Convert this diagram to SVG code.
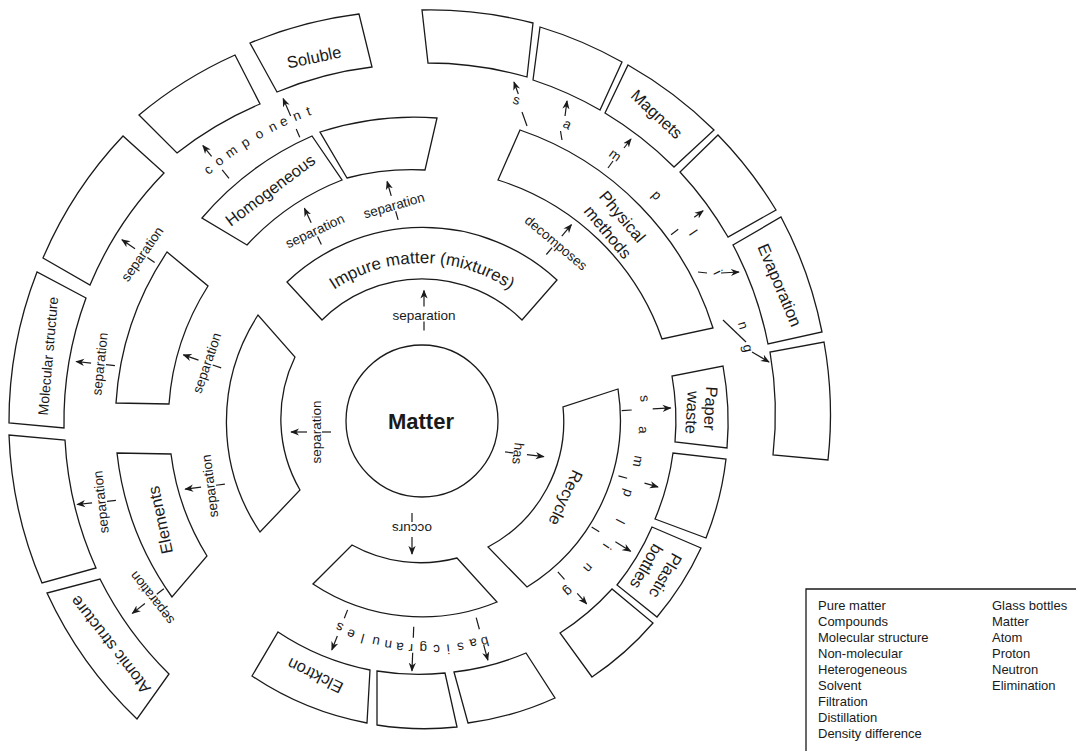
<svg xmlns="http://www.w3.org/2000/svg" width="1076" height="751" viewBox="0 0 1076 751">
<defs>
<style>
.b{fill:#fff;stroke:#1a1a1a;stroke-width:1.3}
.t{font-family:"Liberation Sans",Arial,sans-serif;font-size:16.5px;fill:#1a1a1a;text-anchor:middle;dominant-baseline:central}
.s{font-size:13.5px}
.c line{stroke:#1a1a1a;stroke-width:1.2}
.a{marker-end:url(#ah)}
.lg{font-family:"Liberation Sans",Arial,sans-serif;font-size:13px;fill:#1a1a1a}
</style>
<marker id="ah" viewBox="0 0 10 10" refX="9" refY="5" markerWidth="9" markerHeight="9" markerUnits="userSpaceOnUse" orient="auto"><path d="M0,1 L10,5 L0,9 L3,5 z" fill="#1a1a1a"/></marker>
</defs>
<rect width="1076" height="751" fill="#fff"/>

<g id="matter"><circle class="b" cx="422" cy="421" r="76"/><text class="t" x="421" y="421" style="font-size:22px;font-weight:bold">Matter</text></g>

<g id="impure"><path class="b" d="M287,282 A197,197 0 0 1 557,280 L522,320 A142,142 0 0 0 322,320 Z"/>
<path id="pim" d="M285.2,342 A158,158 0 0 1 558.8,342" fill="none"/>
<text style="font-family:'Liberation Sans',Arial,sans-serif;font-size:17px;fill:#1a1a1a"><textPath href="#pim" startOffset="50%" text-anchor="middle">Impure matter (mixtures)</textPath></text></g>
<g id="left1"><path class="b" d="M260,532 A197,197 0 0 1 258,315 L295,357 A142,142 0 0 0 300,490 Z"/></g>
<g id="recycle"><path class="b" d="M618,389 A197,197 0 0 1 527,587 L488,547 A142,142 0 0 0 563,407 Z"/><text class="t" transform="translate(566 498) rotate(115)">Recycle</text></g>
<g id="bottom1"><path class="b" d="M497,602 A197,197 0 0 1 313,584 L352,545 A142,142 0 0 0 457,558 Z"/></g>

<g id="homogeneous"><path class="b" d="M202,218 A306,306 0 0 1 312,136 L342,180 A254,254 0 0 0 247,245 Z"/><text class="t" transform="translate(270 190) rotate(-37)">Homogeneous</text></g>
<g id="blank-h"><path class="b" d="M320,132 A306,306 0 0 1 437,118 L425,170 A254,254 0 0 0 347,178 Z"/></g>
<g id="physical"><path class="b" d="M520,130 A306,306 0 0 1 713,328 L662,339 A254,254 0 0 0 498,180 Z"/><text class="t" transform="translate(622.6 216.4) rotate(50)">Physical</text><text class="t" transform="translate(608 232) rotate(50)">methods</text></g>
<g id="left2"><path class="b" d="M116,403 A306,306 0 0 1 167,252 L208,286 A254,254 0 0 0 169,404 Z"/></g>
<g id="elements"><path class="b" d="M172,597 A306,306 0 0 1 117,453 L171,454 A254,254 0 0 0 207,556 Z"/><text class="t" transform="translate(160 520) rotate(-102)">Elements</text></g>
<g id="elcktron"><path class="b" d="M367,723 A306,306 0 0 1 252,676 L278,632 A254,254 0 0 0 370,670 Z"/><text class="t" transform="translate(315 676) rotate(206)">Elcktron</text></g>
<g id="blank-bm"><path class="b" d="M457,727 A306,306 0 0 1 377,725 L377,671 A254,254 0 0 0 445,673 Z"/></g>
<g id="blank-br"><path class="b" d="M555,698 A306,306 0 0 1 468,723 L454,672 A254,254 0 0 0 526,653 Z"/></g>
<g id="paper"><path class="b" d="M723,366 A306,306 0 0 1 727,448 L675,442 A254,254 0 0 0 672,376 Z"/><text class="t" transform="translate(711 408.5) rotate(93)">Paper</text><text class="t" transform="translate(692.5 412.5) rotate(93)">waste</text></g>
<g id="blank-p"><path class="b" d="M726,459 A306,306 0 0 1 706,538 L655,519 A254,254 0 0 0 673,453 Z"/></g>
<g id="plastic"><path class="b" d="M701,548 A306,306 0 0 1 657,617 L617,585 A254,254 0 0 0 652,527 Z"/><text class="t" transform="translate(665.8 575.8) rotate(120)">Plastic</text><text class="t" transform="translate(646.7 566.7) rotate(120)">bottles</text></g>
<g id="blank-pl"><path class="b" d="M653,623 A306,306 0 0 1 592,677 L560,633 A254,254 0 0 0 612,589 Z"/></g>

<g id="soluble"><path class="b" d="M250,43 A412,412 0 0 1 359,14 L372,67 A358,358 0 0 0 277,92 Z"/><text class="t" transform="translate(314 57) rotate(-12)">Soluble</text></g>
<g id="blank-s"><path class="b" d="M139,115 A412,412 0 0 1 235,55 L260,104 A358,358 0 0 0 177,153 Z"/></g>
<g id="blank-bigleft"><path class="b" d="M43,258 A412,412 0 0 1 123,136 L164,173 A358,358 0 0 0 90,285 Z"/></g>
<g id="molecular"><path class="b" d="M9,423 A412,412 0 0 1 37,272 L86,298 A358,358 0 0 0 64,428 Z"/><text class="t" transform="translate(48 356) rotate(-85)" style="font-size:14px">Molecular structure</text></g>
<g id="blank-m"><path class="b" d="M42,583 A412,412 0 0 1 9,435 L65,440 A358,358 0 0 0 96,568 Z"/></g>
<g id="atomic"><path class="b" d="M137,719 A412,412 0 0 1 47,593 L100,579 A358,358 0 0 0 169,674 Z"/><text class="t" transform="translate(110 645) rotate(-128)">Atomic structure</text></g>
<g id="blank-tr1"><path class="b" d="M422,10 A412,412 0 0 1 533,23 L527,77 A358,358 0 0 0 428,63 Z"/></g>
<g id="blank-tr2"><path class="b" d="M540,27 A412,412 0 0 1 622,62 L600,110 A358,358 0 0 0 533,80 Z"/></g>
<g id="magnets"><path class="b" d="M628,65 A412,412 0 0 1 714,130 L674,167 A358,358 0 0 0 605,113 Z"/><text class="t" transform="translate(657 114) rotate(43)">Magnets</text></g>
<g id="blank-tr4"><path class="b" d="M718,135 A412,412 0 0 1 776,210 L728,237 A358,358 0 0 0 680,172 Z"/></g>
<g id="evaporation"><path class="b" d="M781,217 A412,412 0 0 1 822,332 L768,344 A358,358 0 0 0 733,245 Z"/><text class="t" transform="translate(780 285) rotate(67)">Evaporation</text></g>
<g id="blank-tr6"><path class="b" d="M824,342 A412,412 0 0 1 828,460 L773,455 A358,358 0 0 0 770,352 Z"/></g>

<g id="connectors" class="c">
<g transform="translate(424 315.5)"><line y1="6" y2="15"/><line class="a" y1="-9" y2="-25"/><text class="t s">separation</text></g>
<g transform="translate(316 432)"><g transform="rotate(-90)"><line y1="6" y2="15"/><line class="a" y1="-9" y2="-25"/><text class="t s">separation</text></g></g>
<g transform="translate(518 453.5) rotate(97)"><line y1="5" y2="13"/><line class="a" y1="-9" y2="-26"/><text class="t s">has</text></g>
<g transform="translate(412 528) rotate(180)"><line y1="6" y2="15"/><line class="a" y1="-9" y2="-26"/><text class="t s">occurs</text></g>
<g transform="translate(315 231) rotate(-25)"><line y1="6" y2="15"/><line class="a" y1="-9" y2="-25"/><text class="t s">separation</text></g>
<g transform="translate(394 205.5) rotate(-16)"><line y1="6" y2="15"/><line class="a" y1="-10" y2="-25"/><text class="t s">separation</text></g>
<g transform="translate(556 243) rotate(40)"><line y1="6" y2="15"/><line class="a" y1="-9" y2="-24"/><text class="t s">decomposes</text></g>
<g transform="translate(207 363) rotate(-71)"><line y1="6" y2="15"/><line class="a" y1="-9" y2="-25"/><text class="t s">separation</text></g>
<g transform="translate(210 486) rotate(-97)"><line y1="6" y2="15"/><line class="a" y1="-9" y2="-25"/><text class="t s">separation</text></g>
<g transform="translate(100 364) rotate(-84)"><line y1="6" y2="15"/><line class="a" y1="-9" y2="-24"/><text class="t s">separation</text></g>
<g transform="translate(142.4 254) rotate(-55)"><line y1="6" y2="15"/><line class="a" y1="-9" y2="-25"/><text class="t s">separation</text></g>
<g transform="translate(101 502) rotate(-96)"><line y1="6" y2="15"/><line class="a" y1="-9" y2="-24"/><text class="t s">separation</text></g>
<g transform="translate(152 598) rotate(-128)"><line y1="6" y2="15"/><line class="a" y1="-9" y2="-25"/><text class="t s">separation</text></g>

<g id="component">
<line x1="422" y1="111" x2="422" y2="100" transform="rotate(-38.5 422 421)"/>
<line class="a" x1="422" y1="83" x2="422" y2="69" transform="rotate(-38.5 422 421)"/>
<line x1="422" y1="112" x2="422" y2="103" transform="rotate(-23.3 422 421)"/>
<line class="a" x1="422" y1="89" x2="422" y2="70" transform="rotate(-23.3 422 421)"/>
<text class="t s" x="422" y="91" transform="rotate(-40.4 422 421)">c</text>
<text class="t s" x="422" y="91" transform="rotate(-38 422 421)">o</text>
<text class="t s" x="422" y="91" transform="rotate(-35.3 422 421)">m</text>
<text class="t s" x="422" y="91" transform="rotate(-32.4 422 421)">p</text>
<text class="t s" x="422" y="91" transform="rotate(-29.6 422 421)">o</text>
<text class="t s" x="422" y="91" transform="rotate(-26.9 422 421)">n</text>
<text class="t s" x="422" y="91" transform="rotate(-24.8 422 421)">e</text>
<text class="t s" x="422" y="91" transform="rotate(-22.3 422 421)">n</text>
<text class="t s" x="422" y="91" transform="rotate(-20.1 422 421)">t</text>
</g>

<g id="sampling-top">
<line x1="527" y1="126" x2="522" y2="112"/><line class="a" x1="518.3" y1="94" x2="514" y2="82"/>
<line x1="562" y1="140" x2="560.5" y2="131"/><line class="a" x1="565" y1="116" x2="567" y2="101"/>
<line x1="608" y1="168" x2="613" y2="161"/><line class="a" x1="624" y1="148" x2="631" y2="139"/>
<line x1="422" y1="110" x2="422" y2="101" transform="rotate(53.2 422 421)"/>
<line class="a" x1="422" y1="81" x2="422" y2="70" transform="rotate(53.2 422 421)"/>
<line x1="698" y1="272" x2="707" y2="273"/><line class="a" x1="721" y1="273" x2="739" y2="272"/>
<line x1="723" y1="320" x2="746" y2="342"/><line class="a" x1="752" y1="352" x2="769" y2="362"/>
<text class="t s" x="422" y="86.4" transform="rotate(16.4 422 421)">s</text>
<text class="t s" x="422" y="90.4" transform="rotate(26.1 422 421)">a</text>
<text class="t s" x="422" y="92.4" transform="rotate(36 422 421)">m</text>
<text class="t s" x="422" y="95.2" transform="rotate(46.1 422 421)">p</text>
<text class="t s" x="422" y="91" transform="rotate(55.2 422 421)">l</text>
<text class="t s" x="422" y="90" transform="rotate(63.3 422 421)">i</text>
<text class="t s" x="422" y="86" transform="rotate(73.4 422 421)">n</text>
<text class="t s" x="422" y="87" transform="rotate(77.4 422 421)">g</text>
</g>

<g id="sampling-recycle">
<line x1="422" y1="221" x2="422" y2="211" transform="rotate(87 422 421)"/>
<line class="a" x1="422" y1="190" x2="422" y2="172" transform="rotate(87 422 421)"/>
<line x1="422" y1="217" x2="422" y2="208" transform="rotate(105.6 422 421)"/>
<line class="a" x1="422" y1="190" x2="422" y2="176" transform="rotate(105.6 422 421)"/>
<line x1="422" y1="221" x2="422" y2="212" transform="rotate(122 422 421)"/>
<line class="a" x1="422" y1="193" x2="422" y2="175" transform="rotate(122 422 421)"/>
<line x1="422" y1="218" x2="422" y2="208" transform="rotate(138 422 421)"/>
<line class="a" x1="422" y1="189" x2="422" y2="175" transform="rotate(138 422 421)"/>
<text class="t s" x="422" y="197" transform="rotate(84.2 422 421)">s</text>
<text class="t s" x="422" y="199.5" transform="rotate(92.3 422 421)">a</text>
<text class="t s" x="422" y="201" transform="rotate(100.6 422 421)">m</text>
<text class="t s" x="422" y="202.4" transform="rotate(109.3 422 421)">p</text>
<text class="t s" x="422" y="199" transform="rotate(116.9 422 421)">l</text>
<text class="t s" x="422" y="197.6" transform="rotate(124.2 422 421)">i</text>
<text class="t s" x="422" y="199" transform="rotate(131.5 422 421)">n</text>
<text class="t s" x="422" y="196.2" transform="rotate(139.4 422 421)">g</text>
</g>

<g id="basic-granules">
<line x1="422" y1="217" x2="422" y2="205" transform="rotate(164.6 422 421)"/>
<line class="a" x1="422" y1="189" x2="422" y2="173" transform="rotate(164.6 422 421)"/>
<line x1="422" y1="215" x2="422" y2="204" transform="rotate(182.3 422 421)"/>
<line class="a" x1="422" y1="189" x2="422" y2="171" transform="rotate(182.3 422 421)"/>
<line x1="422" y1="218" x2="422" y2="209" transform="rotate(201.5 422 421)"/>
<line class="a" x1="422" y1="190" x2="422" y2="175" transform="rotate(201.5 422 421)"/>
<text class="t s" x="422" y="191.5" transform="rotate(164.1 422 421)">b</text>
<text class="t s" x="422" y="192.9" transform="rotate(167 422 421)">a</text>
<text class="t s" x="422" y="191.4" transform="rotate(170.3 422 421)">s</text>
<text class="t s" x="422" y="191.5" transform="rotate(173.4 422 421)">i</text>
<text class="t s" x="422" y="192.2" transform="rotate(176.3 422 421)">c</text>
<text class="t s" x="422" y="193.7" transform="rotate(179.7 422 421)">g</text>
<text class="t s" x="422" y="193.4" transform="rotate(182.8 422 421)">r</text>
<text class="t s" x="422" y="193.6" transform="rotate(185.6 422 421)">a</text>
<text class="t s" x="422" y="194.5" transform="rotate(188.6 422 421)">n</text>
<text class="t s" x="422" y="195.6" transform="rotate(191.8 422 421)">u</text>
<text class="t s" x="422" y="195.8" transform="rotate(195.3 422 421)">l</text>
<text class="t s" x="422" y="196.4" transform="rotate(198.5 422 421)">e</text>
<text class="t s" x="422" y="198.7" transform="rotate(201.8 422 421)">s</text>
</g>
</g>

<g id="legend">
<path d="M1076,589 H806 V751" fill="none" stroke="#1a1a1a" stroke-width="1.3"/>
<text class="lg" x="818" y="609.5">Pure matter</text>
<text class="lg" x="818" y="625.6">Compounds</text>
<text class="lg" x="818" y="641.7">Molecular structure</text>
<text class="lg" x="818" y="657.8">Non-molecular</text>
<text class="lg" x="818" y="673.9">Heterogeneous</text>
<text class="lg" x="818" y="690">Solvent</text>
<text class="lg" x="818" y="706.1">Filtration</text>
<text class="lg" x="818" y="722.2">Distillation</text>
<text class="lg" x="818" y="738.3">Density difference</text>
<text class="lg" x="992" y="609.5">Glass bottles</text>
<text class="lg" x="992" y="625.6">Matter</text>
<text class="lg" x="992" y="641.7">Atom</text>
<text class="lg" x="992" y="657.8">Proton</text>
<text class="lg" x="992" y="673.9">Neutron</text>
<text class="lg" x="992" y="690">Elimination</text>
</g>
</svg>
